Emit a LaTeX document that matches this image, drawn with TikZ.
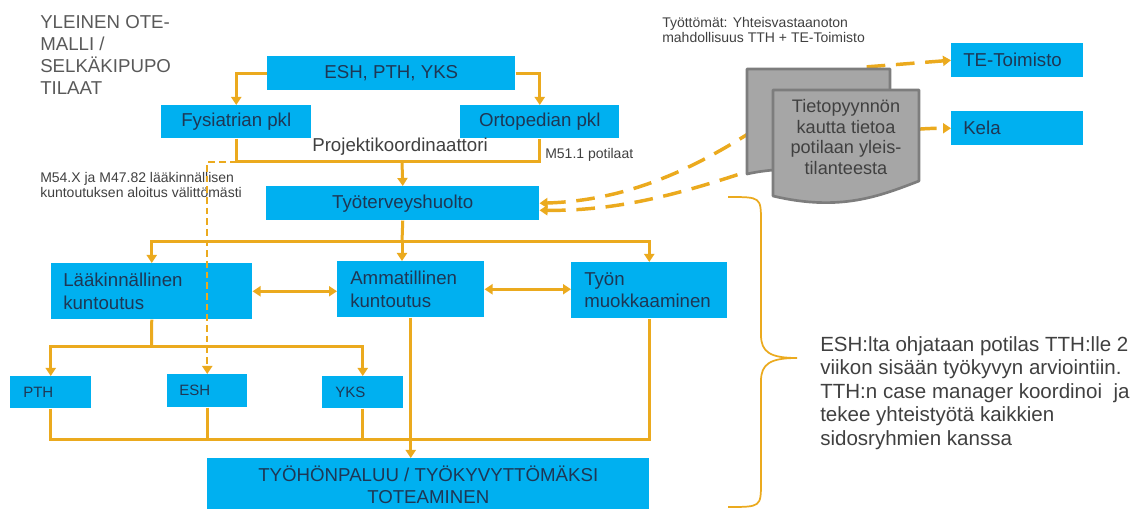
\documentclass[tikz,border=0pt]{standalone}
\usepackage{fontspec}
\setmainfont{Liberation Sans}
\usetikzlibrary{arrows.meta}
\definecolor{boxblue}{RGB}{0,176,240}
\definecolor{boxtxt}{RGB}{30,55,85}
\definecolor{gold}{RGB}{235,170,30}
\definecolor{docfill}{RGB}{166,166,166}
\definecolor{docline}{RGB}{125,125,125}
\definecolor{titlegray}{RGB}{89,89,89}
\definecolor{txtgray}{RGB}{64,64,64}
\tikzset{
  box/.style={fill=boxblue, text=boxtxt, anchor=north west, inner sep=0pt,
    font=\fontsize{14}{17}\selectfont},
  sbox/.style={box, font=\fontsize{11.25}{13}\selectfont},
  conn/.style={draw=gold, line width=2.25pt},
  tipend/.style={-{Triangle[length=6pt,width=7.5pt]}},
  tipboth/.style={{Triangle[length=6pt,width=7.5pt]}-{Triangle[length=6pt,width=7.5pt]}},
  thindash/.style={draw=gold, line width=1.5pt, dash pattern=on 5pt off 3pt},
  thickdash/.style={draw=gold, line width=2.6pt, dash pattern=on 14pt off 8pt},
  doc/.style={fill=docfill, draw=docline, line width=2pt, line join=round},
  bracestyle/.style={draw=gold, line width=1.3pt},
  smalltxt/.style={text=txtgray, inner sep=0pt, align=left, font=\fontsize{10.5}{11.4}\selectfont}
}
\begin{document}
\begin{tikzpicture}[x=0.75pt, y=-0.75pt]
\useasboundingbox (0,0) rectangle (1146,509);

% title
\node[anchor=north west, inner sep=0pt, align=left, text=titlegray,
  font=\fontsize{14}{16.6}\selectfont] (title) at (40,15)
  {YLEINEN OTE-\\MALLI /\\SELKÄKIPUPO\\TILAAT};

% boxes
\node[box, minimum width=186pt, minimum height=25.5pt] (esh) at (267,56) {ESH, PTH, YKS};
\node[box, minimum width=112.5pt, minimum height=24.75pt] (fys) at (161,105) {Fysiatrian pkl};
\node[box, minimum width=119.25pt, minimum height=24.75pt] (ort) at (460,105) {Ortopedian pkl};
\node[box, minimum width=204.75pt, minimum height=25.5pt] (tth) at (266,186) {Työterveyshuolto};
\node[box, minimum width=150.75pt, minimum height=42pt, text width=132.75pt,
  inner xsep=9pt, align=left] (laak) at (51,263) {Lääkinnällinen\\kuntoutus};
\node[box, minimum width=110.25pt, minimum height=42pt, text width=90.75pt,
  inner xsep=9.75pt, align=left] (amm) at (337,261) {Ammatillinen\\kuntoutus};
\node[box, minimum width=117pt, minimum height=42pt, text width=97.5pt,
  inner xsep=9.75pt, align=left] (tyon) at (571,262) {Työn\\muokkaaminen};
\node[sbox, minimum width=60.75pt, minimum height=24pt, text width=41.25pt,
  inner xsep=9.75pt, align=left] (pth) at (10,376) {PTH};
\node[sbox, minimum width=60pt, minimum height=24.75pt, text width=42pt,
  inner xsep=9pt, align=left] (esh2) at (167,374) {ESH};
\node[sbox, minimum width=60.75pt, minimum height=24pt, text width=41.25pt,
  inner xsep=9.75pt, align=left] (yks) at (322,376) {YKS};
\node[box, minimum width=331.5pt, minimum height=39.75pt, align=center,
  font=\fontsize{14}{16.5}\selectfont] (ret) at (207,458)
  {TYÖHÖNPALUU / TYÖKYVYTTÖMÄKSI\\TOTEAMINEN};
\node[box, minimum width=99pt, minimum height=25.5pt, text width=81pt,
  inner xsep=9pt, align=left] (te) at (951,43) {TE-Toimisto};
\node[box, minimum width=99pt, minimum height=25.5pt, text width=81pt,
  inner xsep=9pt, align=left] (kela) at (951,111) {Kela};

% labels
\node[text=txtgray, inner sep=0pt, font=\fontsize{14}{16}\selectfont] (proj) at (400,147) {Projektikoordinaattori};
\node[smalltxt, anchor=west] (m51) at (545,155) {M51.1 potilaat};
\node[smalltxt, anchor=north west] (m54) at (40,172) {M54.X ja M47.82 lääkinnällisen\\kuntoutuksen aloitus välittömästi};
\node[smalltxt, anchor=north west] (tyott) at (662,17) {Työttömät: Yhteisvastaanoton\\mahdollisuus TTH + TE-Toimisto};

% junction coordinates
\coordinate (j1) at (402,162);
\coordinate (j2) at (402,242);
\coordinate (j3) at (151.5,347);
\coordinate (j4) at (300,440);

% connectors
\draw[conn, tipend] (esh.west) -| (fys.north);
\draw[conn, tipend] (esh.east) -| (ort.north);
\draw[conn] (fys.south) |- (j1) -| (ort.south);
\draw[conn, tipend] (j1) -- (tth.north);
\draw[conn] (tth.south) -- (j2);
\draw[conn, tipend] (j2) -| (laak.north);
\draw[conn, tipend] (j2) -| (tyon.north);
\draw[conn, tipend] (j2) -- (j2 |- amm.north);
\draw[conn, tipboth] (laak.east) -- (laak.east -| amm.west);
\draw[conn, tipboth] (amm.east) -- (amm.east -| tyon.west);
\draw[conn] (laak.south) -- (j3);
\draw[conn, tipend] (j3) -| (pth.north);
\draw[conn, tipend] (j3) -| (yks.north);
\draw[thindash, tipend] (fys.south |- j1) -| (esh2.north);
\draw[conn] (pth.south) |- (j4) -| (tyon.south);
\draw[conn] (esh2.south) -- (esh2.south |- j4);
\draw[conn] (yks.south) -- (yks.south |- j4);
\draw[conn, tipend] (amm.south) -- (amm.south |- ret.north);

% dashed curves (behind documents)
\draw[thickdash, tipboth] (tth.east) .. controls (700,198) and (790,90) .. (865,67) -- (te.west);
\draw[thickdash, tipboth] ([yshift=-5.25pt]tth.east) .. controls (700,212) and (810,128) .. (kela.west);

% documents
\draw[doc] (747,69) -- (890,69) -- (890,160) .. controls (850,178) and (800,162) .. (747,174) -- cycle;
\draw[doc] (773,90) -- (919,90) -- (919,181) .. controls (880,196) and (840,212) .. (773,196) -- cycle;
\node[text=txtgray, align=center, inner sep=0pt, font=\fontsize{13.6}{15.4}\selectfont] (dtxt) at (846,137)
  {Tietopyynnön\\kautta tietoa\\potilaan yleis-\\tilanteesta};

% brace
\draw[bracestyle] (728,197) .. controls (761,197) .. (761,222) -- (761,335)
  .. controls (761,352) and (770,358) .. (797,358)
  .. controls (770,358) and (761,364) .. (761,381) -- (761,482)
  .. controls (761,507) .. (728,507);

\node[anchor=north west, inner sep=0pt, align=left, text=txtgray,
  font=\fontsize{15.4}{17.6}\selectfont] (note) at (820,336)
  {ESH:lta ohjataan potilas TTH:lle 2\\viikon sisään työkyvyn arviointiin.\\TTH:n case manager koordinoi\ \ ja\\tekee yhteistyötä kaikkien\\sidosryhmien kanssa};
\end{tikzpicture}
\end{document}
